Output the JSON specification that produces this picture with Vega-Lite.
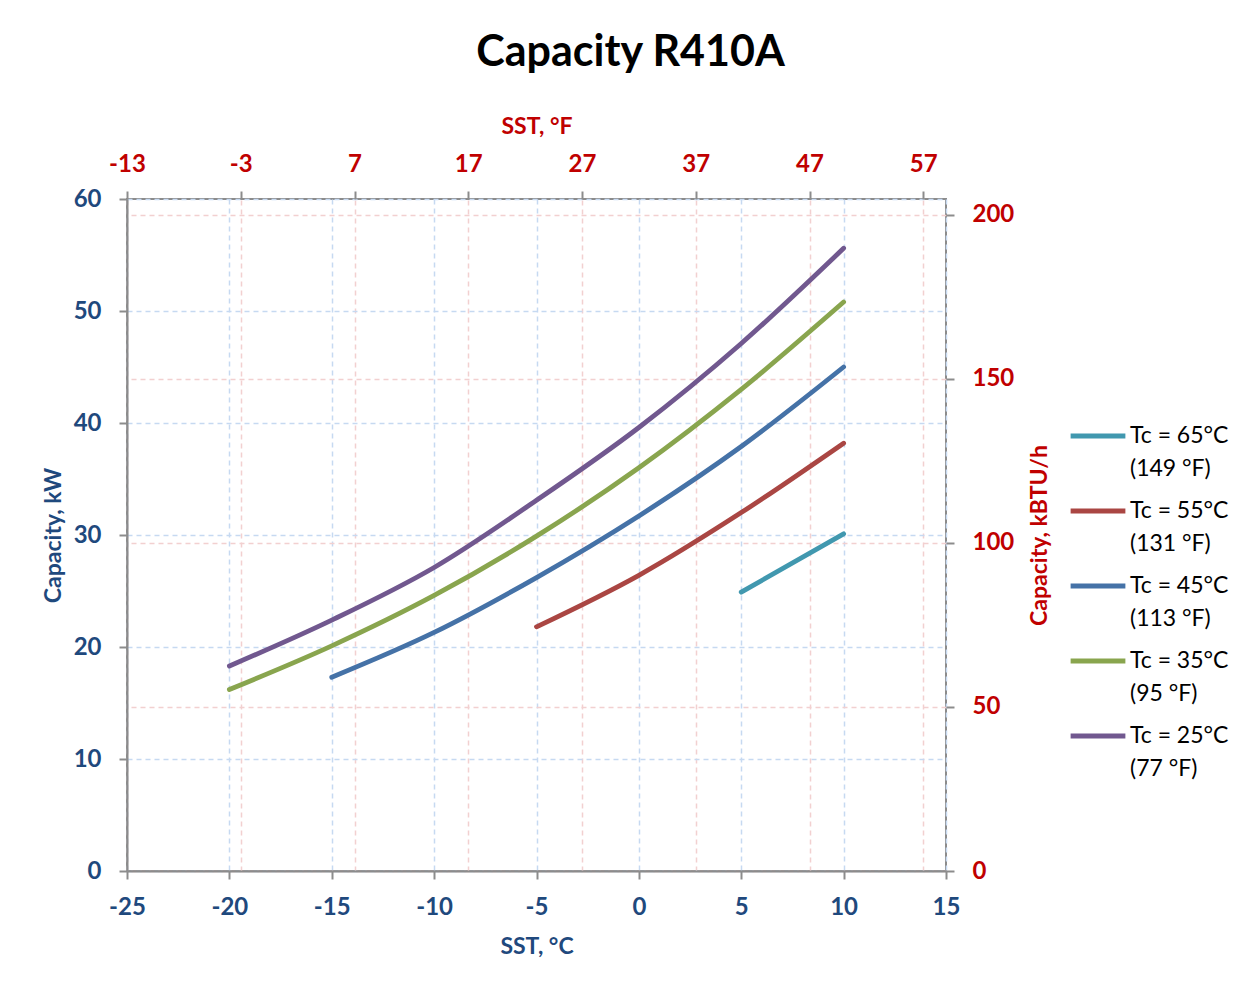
{
  "$schema": "https://vega.github.io/schema/vega-lite/v6.json",
  "autosize": {"type": "none"},
  "width": 819,
  "height": 672,
  "padding": {"left": 127, "top": 199, "right": 307, "bottom": 114},
  "background": "white",
  "title": {
    "text": "Capacity R410A",
    "font": "Lato",
    "fontSize": 43,
    "fontWeight": "bold",
    "color": "#000000",
    "anchor": "middle",
    "frame": "group",
    "dx": 94,
    "offset": 40
  },
  "config": {
    "view": {"stroke": "#8c8c8c", "strokeWidth": 2},
    "axis": {
      "labelFont": "Lato",
      "titleFont": "Lato",
      "labelFontSize": 24,
      "titleFontSize": 23,
      "labelFontWeight": "bold",
      "titleFontWeight": "bold",
      "domainColor": "#8c8c8c",
      "domainWidth": 2,
      "tickColor": "#8c8c8c",
      "tickWidth": 2,
      "tickSize": 8,
      "labelFlush": false,
      "labelOverlap": false,
      "labelExpr": "replace(datum.label, '\u2212', '-')",
      "gridDash": [5, 4],
      "gridWidth": 1.5
    }
  },
  "datasets": {
    "curves": [
      {"series": "Tc = 65°C|(149 °F)", "sst": 5, "cap": 24.9},
      {"series": "Tc = 65°C|(149 °F)", "sst": 10, "cap": 30.1},
      {"series": "Tc = 55°C|(131 °F)", "sst": -5, "cap": 21.8},
      {"series": "Tc = 55°C|(131 °F)", "sst": 0, "cap": 26.4},
      {"series": "Tc = 55°C|(131 °F)", "sst": 5, "cap": 32.0},
      {"series": "Tc = 55°C|(131 °F)", "sst": 10, "cap": 38.2},
      {"series": "Tc = 45°C|(113 °F)", "sst": -15, "cap": 17.3},
      {"series": "Tc = 45°C|(113 °F)", "sst": -10, "cap": 21.3},
      {"series": "Tc = 45°C|(113 °F)", "sst": -5, "cap": 26.2},
      {"series": "Tc = 45°C|(113 °F)", "sst": 0, "cap": 31.7},
      {"series": "Tc = 45°C|(113 °F)", "sst": 5, "cap": 37.9},
      {"series": "Tc = 45°C|(113 °F)", "sst": 10, "cap": 45.0},
      {"series": "Tc = 35°C|(95 °F)", "sst": -20, "cap": 16.2},
      {"series": "Tc = 35°C|(95 °F)", "sst": -15, "cap": 20.1},
      {"series": "Tc = 35°C|(95 °F)", "sst": -10, "cap": 24.6},
      {"series": "Tc = 35°C|(95 °F)", "sst": -5, "cap": 29.9},
      {"series": "Tc = 35°C|(95 °F)", "sst": 0, "cap": 36.0},
      {"series": "Tc = 35°C|(95 °F)", "sst": 5, "cap": 43.0},
      {"series": "Tc = 35°C|(95 °F)", "sst": 10, "cap": 50.8},
      {"series": "Tc = 25°C|(77 °F)", "sst": -20, "cap": 18.3},
      {"series": "Tc = 25°C|(77 °F)", "sst": -15, "cap": 22.4},
      {"series": "Tc = 25°C|(77 °F)", "sst": -10, "cap": 27.1},
      {"series": "Tc = 25°C|(77 °F)", "sst": -5, "cap": 33.1},
      {"series": "Tc = 25°C|(77 °F)", "sst": 0, "cap": 39.6},
      {"series": "Tc = 25°C|(77 °F)", "sst": 5, "cap": 47.1},
      {"series": "Tc = 25°C|(77 °F)", "sst": 10, "cap": 55.6}
    ],
    "imperial": [
      {"sst_f": -13, "kbtu": 0},
      {"sst_f": 59, "kbtu": 204.7}
    ]
  },
  "layer": [
    {
      "data": {"name": "imperial"},
      "mark": {"type": "point", "opacity": 0},
      "encoding": {
        "x": {
          "field": "sst_f",
          "type": "quantitative",
          "scale": {"domain": [-13, 59], "nice": false, "zero": false},
          "axis": {
            "orient": "top",
            "title": "SST, °F",
            "values": [-13, -3, 7, 17, 27, 37, 47, 57],
            "labelColor": "#C00000",
            "titleColor": "#C00000",
            "titlePadding": 14,
            "labelPadding": 15,
            "grid": true,
            "gridColor": "#F2D0D0",
            "domain": false
          }
        },
        "y": {
          "field": "kbtu",
          "type": "quantitative",
          "scale": {"domain": [0, 204.73], "nice": false},
          "axis": {
            "orient": "right",
            "title": "Capacity, kBTU/h",
            "titleAngle": 270,
            "titleBaseline": "bottom",
            "values": [0, 50, 100, 150, 200],
            "labelColor": "#C00000",
            "titleColor": "#C00000",
            "titlePadding": 38,
            "labelPadding": 18,
            "grid": true,
            "gridColor": "#F2D0D0",
            "domain": false
          }
        }
      }
    },
    {
      "data": {"name": "curves"},
      "mark": {"type": "line", "strokeWidth": 4.8, "strokeCap": "round", "interpolate": "monotone"},
      "encoding": {
        "x": {
          "field": "sst",
          "type": "quantitative",
          "scale": {"domain": [-25, 15], "nice": false, "zero": false},
          "axis": {
            "orient": "bottom",
            "title": "SST, °C",
            "values": [-25, -20, -15, -10, -5, 0, 5, 10, 15],
            "labelColor": "#1F497D",
            "titleColor": "#1F497D",
            "titlePadding": 16,
            "labelPadding": 16,
            "grid": true,
            "gridColor": "#C6D9F1"
          }
        },
        "y": {
          "field": "cap",
          "type": "quantitative",
          "scale": {"domain": [0, 60], "nice": false},
          "axis": {
            "orient": "left",
            "title": "Capacity, kW",
            "values": [0, 10, 20, 30, 40, 50, 60],
            "labelColor": "#1F497D",
            "titleColor": "#1F497D",
            "titlePadding": 8,
            "labelPadding": 18,
            "grid": true,
            "gridColor": "#C6D9F1"
          }
        },
        "color": {
          "field": "series",
          "type": "nominal",
          "scale": {
            "domain": ["Tc = 65°C|(149 °F)", "Tc = 55°C|(131 °F)", "Tc = 45°C|(113 °F)", "Tc = 35°C|(95 °F)", "Tc = 25°C|(77 °F)"],
            "range": ["#4198AF", "#AA4643", "#4572A7", "#89A54E", "#71588F"]
          },
          "legend": {
            "title": null,
            "orient": "none",
            "legendX": 941,
            "legendY": 207,
            "symbolType": "stroke",
            "symbolSize": 3000,
            "symbolStrokeWidth": 4.8,
            "labelExpr": "split(datum.label, '|')",
            "labelFont": "Lato",
            "labelFontSize": 23,
            "labelColor": "#000000",
            "labelBaseline": "top",
            "labelOffset": 2,
            "labelLimit": 300,
            "rowPadding": -4,
            "encode": {
              "labels": {"update": {"lineHeight": {"value": 33}, "dy": {"value": -11}}}
            }
          }
        }
      }
    }
  ],
  "resolve": {"scale": {"x": "independent", "y": "independent"}, "axis": {"x": "independent", "y": "independent"}}
}
